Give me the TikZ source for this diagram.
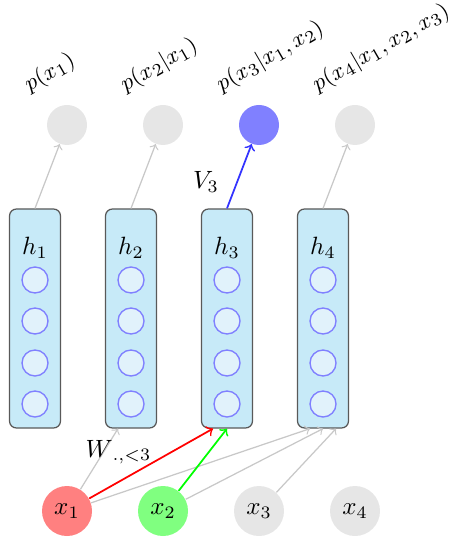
\documentclass[tikz,border=0pt]{standalone}
\usetikzlibrary{calc}
\definecolor{boxfill}{RGB}{199,234,248}
\definecolor{unitfill}{RGB}{225,242,251}
\definecolor{linkgray}{RGB}{200,200,200}
\definecolor{nodegray}{RGB}{230,230,230}
\begin{document}
\begin{tikzpicture}[x=0.4pt,y=-0.4pt,
  outnode/.style={circle,fill=nodegray,minimum size=16pt,inner sep=0},
  inputnode/.style={circle,fill=nodegray,minimum size=20pt,inner sep=0},
  hidbox/.style={draw=black!65,line width=0.5pt,fill=boxfill,rounded corners=2.8pt,
    minimum width=20.4pt,minimum height=87.6pt,inner sep=0},
  unit/.style={circle,draw=blue!50,line width=0.55pt,fill=unitfill,
    minimum size=10.4pt,inner sep=0},
  link/.style={->,draw=linkgray,line width=0.5pt},
  hot/.style={->,line width=0.7pt},
  plabel/.style={rotate=30,anchor=south west,inner sep=0,
    font=\fontsize{9.5}{11}\selectfont}]
\useasboundingbox (0,0) rectangle (455,537);

% hidden layers with their units
\foreach \i/\x in {1/35,2/131,3/227,4/323} {
  \node[hidbox] (h\i) at (\x,318.5) {};
  \node (hl\i) at (\x,248) {$h_{\i}$};
  \foreach \j/\y in {1/280,2/321,3/363,4/404}
    \node[unit] (h\i u\j) at (\x,\y) {};
}

% output distributions
\node[outnode] (p1) at (67,125) {};
\node[outnode] (p2) at (163,125) {};
\node[outnode,fill=blue!50] (p3) at (259,125) {};
\node[outnode] (p4) at (355,125) {};

\node[plabel] (lp1) at (32,97) {$p(x_1)$};
\node[plabel] (lp2) at (128,97) {$p(x_2|x_1)$};
\node[plabel] (lp3) at (224,97) {$p(x_3|x_1,x_2)$};
\node[plabel] (lp4) at (320,97) {$p(x_4|x_1,x_2,x_3)$};

% inputs
\node[inputnode,fill=red!50] (x1) at (67,511) {$x_1$};
\node[inputnode,fill=green!50] (x2) at (163,511) {$x_2$};
\node[inputnode] (x3) at (259,511) {$x_3$};
\node[inputnode] (x4) at (355,511) {$x_4$};

% hidden -> output
\draw[link] (h1.north) -- (p1);
\draw[link] (h2.north) -- (p2);
\draw[hot,blue!80] (h3.north) -- (p3);
\draw[link] (h4.north) -- (p4);
\node (v3) at (206,182) {$V_3$};

% input -> hidden
\draw[link] (x1) -- ($(h2.south)+(-13,0)$);
\draw[link] (x1) -- ($(h4.south)+(-13,0)$);
\draw[link] (x2) -- (h4.south);
\draw[link] (x3) -- ($(h4.south)+(13,0)$);
\draw[hot,red] (x1) -- ($(h3.south)+(-14,0)$);
\draw[hot,green] (x2) -- (h3.south);
\node[anchor=base west,inner sep=0] (w) at (85,457) {$W_{\,.,<3}$};
\end{tikzpicture}
\end{document}
